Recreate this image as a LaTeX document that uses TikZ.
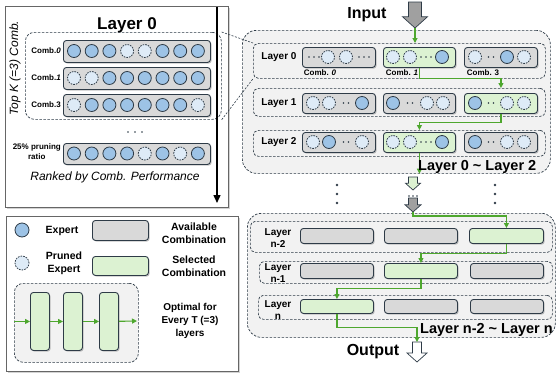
\documentclass[tikz,border=0pt]{standalone}
\usepackage{fontspec}
\setmainfont{Liberation Sans}
\usetikzlibrary{arrows.meta,shadows,positioning}

\definecolor{edgeC}{HTML}{2E3B47}
\definecolor{expertC}{HTML}{9DC3E6}
\definecolor{prunedC}{HTML}{DEEBF7}
\definecolor{availC}{HTML}{D9D9D9}
\definecolor{selC}{HTML}{DCF2D2}
\definecolor{flowC}{HTML}{4EA72E}
\definecolor{groupC}{HTML}{F2F2F2}
\definecolor{blockC}{HTML}{A0A0A0}

\tikzset{
  ex/.style={circle, draw=edgeC, fill=expertC, line width=0.8pt, minimum size=13pt, inner sep=0pt},
  pr/.style={ex, fill=prunedC, dash pattern=on 1.6pt off 1.1pt},
  ellip/.style={minimum width=18pt, minimum height=4pt, inner sep=0pt,
    path picture={\foreach \dx in {-#1,0,#1} \fill[edgeC] ([xshift=\dx pt]path picture bounding box.center) circle (0.8pt);}},
  ellip/.default=5,
  ellip2/.style={minimum width=12pt, minimum height=4pt, inner sep=0pt,
    path picture={\foreach \dx in {-2.5,2.5} \fill[edgeC] ([xshift=\dx pt]path picture bounding box.center) circle (0.8pt);}},
  avail/.style={draw=edgeC, fill=availC, rounded corners=3pt, line width=0.9pt, inner sep=0pt, anchor=north west,
    drop shadow={shadow xshift=1.2pt, shadow yshift=-1.2pt, opacity=0.45}},
  sel/.style={avail, fill=selC},
  panel/.style={draw=black!60, fill=white, line width=0.8pt, inner sep=0pt, anchor=north west,
    drop shadow={shadow xshift=1.5pt, shadow yshift=-1.5pt, opacity=0.35}},
  grp/.style={draw=edgeC, fill=groupC, dash pattern=on 2.5pt off 1.5pt, rounded corners=14pt, line width=0.7pt, inner sep=0pt, anchor=north west},
  rowbox/.style={draw=edgeC, dash pattern=on 2.5pt off 1.5pt, rounded corners=5pt, line width=0.7pt, inner sep=0pt, anchor=north west},
  flow/.style={draw=flowC, line width=1.1pt, -{Triangle[length=5pt,width=5pt]}},
  blockln/.style={draw=edgeC, line width=0.7pt, line join=miter},
  zoomln/.style={draw=edgeC, dash pattern=on 2pt off 1.5pt, line width=0.6pt},
  lbl/.style={font=\fontsize{10}{12}\selectfont\bfseries, align=center, inner sep=0pt},
  combl/.style={font=\fontsize{8}{10}\selectfont\bfseries, align=center, inner sep=0pt},
  leg/.style={font=\fontsize{10.5}{13}\selectfont\bfseries, align=center, inner sep=0pt},
  big/.style={font=\fontsize{16}{19}\selectfont\bfseries, inner sep=0pt},
  span/.style={font=\fontsize{14.5}{17}\selectfont\bfseries, inner sep=0pt, anchor=west},
}

% hollow block arrow pointing down: name, fill, x, y top, y tip, shaft width, head width
\newcommand{\blockdown}[7]{%
  \draw[blockln, fill=#2] ({#3-#6/2},#4) -- ({#3+#6/2},#4) -- ({#3+#6/2},{#5-0.45*#7})
    -- ({#3+#7/2},{#5-0.45*#7}) -- (#3,#5) -- ({#3-#7/2},{#5-0.45*#7}) -- ({#3-#6/2},{#5-0.45*#7}) -- cycle;
  \coordinate (#1-tail) at (#3,#4);
  \coordinate (#1-tip) at (#3,#5);
}

\begin{document}
\begin{tikzpicture}[x=1pt, y=-1pt]
  \useasboundingbox (0,0) rectangle (557,373);

  % ranking of combinations in one layer
  \node[panel, minimum width=223pt, minimum height=201pt] (rank) at (5,6) {};
  \node[font=\fontsize{17}{20}\selectfont\bfseries] (rankt) at (127,25) {Layer 0};
  \node[rowbox, rounded corners=9pt, minimum width=196pt, minimum height=87pt] (topk) at (25,32) {};
  \node[font=\fontsize{12}{14}\selectfont\itshape, rotate=90] (topkt) at (15,68) {Top K (=3) Comb.};

  \node[avail, minimum width=147pt, minimum height=22pt] (lc0) at (63,40) {};
  \node[combl, anchor=east] (lc0t) at (61,51) {Comb.\textit{0}};
  \foreach \s [count=\k] in {ex,ex,ex,pr,pr,ex,ex,ex}
    \node[\s] (lc0e\k) at ({56.3+17.7*\k},51) {};

  \node[avail, minimum width=147pt, minimum height=22pt] (lc1) at (63,67) {};
  \node[combl, anchor=east] (lc1t) at (61,78) {Comb.\textit{1}};
  \foreach \s [count=\k] in {pr,pr,ex,ex,ex,ex,ex,ex}
    \node[\s] (lc1e\k) at ({56.3+17.7*\k},78) {};

  \node[avail, minimum width=147pt, minimum height=22pt] (lc3) at (63,94) {};
  \node[combl, anchor=east] (lc3t) at (61,105) {Comb.3};
  \foreach \s [count=\k] in {pr,ex,ex,ex,ex,ex,ex,pr}
    \node[\s] (lc3e\k) at ({56.3+17.7*\k},105) {};

  \node[ellip=7] (lmore) at (135,132) {};

  \node[avail, minimum width=147pt, minimum height=21pt] (lc25) at (63,143) {};
  \node[combl, anchor=east] (lc25t) at (61,152) {25\% pruning\\ratio};
  \foreach \s [count=\k] in {ex,ex,ex,ex,pr,ex,pr,ex}
    \node[\s] (lc25e\k) at ({56.3+17.7*\k},153.5) {};

  \node[font=\fontsize{12}{14}\selectfont\itshape] (rankedt) at (115,177) {Ranked by Comb. Performance};
  \coordinate (rk0) at (217,6.5);
  \coordinate (rk1) at (217,203);
  \draw[line width=1.4pt, -{Triangle[length=8pt,width=7pt]}] (rk0) -- (rk1);

  % legend
  \node[panel, minimum width=232pt, minimum height=155pt] (legend) at (6,216) {};
  \node[ex, minimum size=14pt] (lgex) at (22,230) {};
  \node[leg] (lgext) at (62,231) {Expert};
  \node[avail, minimum width=56pt, minimum height=20pt] (lgav) at (92,220) {};
  \node[leg] (lgavt) at (194,233) {Available\\Combination};
  \node[pr, minimum size=14pt] (lgpr) at (22,263) {};
  \node[leg] (lgprt) at (64,263.5) {Pruned\\Expert};
  \node[sel, minimum width=56pt, minimum height=19pt] (lgsel) at (92,256) {};
  \node[leg] (lgselt) at (194,266.5) {Selected\\Combination};
  \node[grp, rounded corners=9pt, minimum width=124pt, minimum height=79pt] (opt) at (14,283) {};
  \node[sel, minimum width=19pt, minimum height=58pt] (ob1) at (30,292) {};
  \node[sel, minimum width=19pt, minimum height=58pt] (ob2) at (63,292) {};
  \node[sel, minimum width=19pt, minimum height=58pt] (ob3) at (99,292) {};
  \coordinate (optout) at (137,321);
  \draw[flow] (opt.west |- ob1.west) -- (ob1.west);
  \draw[flow] (ob1) -- (ob2);
  \draw[flow] (ob2) -- (ob3);
  \draw[flow] (ob3) -- (optout);
  \node[leg, font=\fontsize{10}{13}\selectfont\bfseries] (optt) at (190,321) {Optimal for\\Every T (=3)\\layers};

  % layers 0 ~ 2
  \node[big] (inp) at (367,15) {Input};
  \blockdown{inarr}{blockC}{415}{2}{28}{13}{25}
  \node[grp, minimum width=308pt, minimum height=143pt] (grpA) at (242,30) {};

  \node[rowbox, minimum width=292pt, minimum height=35pt] (row0) at (253,43) {};
  \node[lbl] (row0t) at (279,57) {Layer 0};
  \node[avail, minimum width=73pt, minimum height=20pt] (r0a) at (302,47) {};
  \node[sel, minimum width=72pt, minimum height=20pt] (r0b) at (383,47) {};
  \node[avail, minimum width=73pt, minimum height=20pt] (r0c) at (464,47) {};
  \foreach \s/\x [count=\k] in {ellip/314,pr/328,pr/346,ellip/364,pr/393,pr/410,ellip/426,ex/442,pr/475,ellip2/491,ex/507,pr/524}
    \node[\s] (r0e\k) at (\x,57) {};
  \node[combl] (r0at) at (320,73) {Comb. \textit{0}};
  \node[combl] (r0bt) at (402,73) {Comb. \textit{1}};
  \node[combl] (r0ct) at (483,73) {Comb. 3};

  \node[rowbox, minimum width=292pt, minimum height=28pt] (row1) at (253,88) {};
  \node[lbl] (row1t) at (279,103) {Layer 1};
  \node[avail, minimum width=73pt, minimum height=20pt] (r1a) at (302,93) {};
  \node[avail, minimum width=72pt, minimum height=20pt] (r1b) at (383,93) {};
  \node[sel, minimum width=73pt, minimum height=20pt] (r1c) at (464,93) {};
  \foreach \s/\x [count=\k] in {pr/313,pr/329,ellip2/346,ex/362,ex/393,ellip2/410,pr/427,pr/443,ex/475,ellip2/491,pr/507,pr/524}
    \node[\s] (r1e\k) at (\x,103) {};

  \node[rowbox, minimum width=292pt, minimum height=26pt] (row2) at (253,130) {};
  \node[lbl] (row2t) at (279,142) {Layer 2};
  \node[avail, minimum width=73pt, minimum height=20pt] (r2a) at (302,132) {};
  \node[sel, minimum width=72pt, minimum height=20pt] (r2b) at (383,132) {};
  \node[avail, minimum width=73pt, minimum height=20pt] (r2c) at (464,132) {};
  \foreach \s/\x [count=\k] in {pr/313,ex/329,ellip2/346,pr/362,pr/393,pr/410,ellip/426,ex/442,ex/475,ellip2/491,pr/507,pr/524}
    \node[\s] (r2e\k) at (\x,142) {};

  \draw[flow] (inarr-tip) -- (inarr-tip |- row0.north);
  \draw[flow] (r0b.south) -- ++(0,11) -| (r1c.north |- row1.north);
  \draw[flow] (r1c.south) -- ++(0,9) -| (r2b.north |- row2.north);
  \draw[flow] (r2b.south) -- (r2b.south |- grpA.south);
  \node[span] (spanA) at (418,167) {Layer 0 \textasciitilde{} Layer 2};

  % skipped layers
  \blockdown{skip1}{selC}{413}{177}{190}{9}{15}
  \node[ellip=4] (skipd) at (413,196) {};
  \blockdown{skip2}{blockC}{413}{198}{212}{9}{16}
  \foreach \yy in {185,194,203} {
    \fill[edgeC] (337,\yy) circle (1.3pt);
    \fill[edgeC] (495,\yy) circle (1.3pt);
  }

  % layers n-2 ~ n
  \node[grp, minimum width=308pt, minimum height=124pt] (grpB) at (247,213) {};

  \node[rowbox, minimum width=302pt, minimum height=31pt] (rowm2) at (250,221) {};
  \node[lbl] (rowm2t) at (278,238) {Layer\\n-2};
  \node[avail, minimum width=73pt, minimum height=15pt] (rm2a) at (300,228) {};
  \node[avail, minimum width=73pt, minimum height=15pt] (rm2b) at (384,228) {};
  \node[sel, minimum width=74pt, minimum height=15pt] (rm2c) at (469,228) {};

  \node[rowbox, minimum width=293pt, minimum height=22pt] (rowm1) at (259,261) {};
  \node[lbl] (rowm1t) at (278,273.5) {Layer\\n-1};
  \node[avail, minimum width=73pt, minimum height=15pt] (rm1a) at (300,263) {};
  \node[sel, minimum width=73pt, minimum height=15pt] (rm1b) at (384,263) {};
  \node[avail, minimum width=73pt, minimum height=15pt] (rm1c) at (470,263) {};

  \node[rowbox, minimum width=294pt, minimum height=24pt] (rown) at (258,295) {};
  \node[lbl] (rownt) at (278,310.5) {Layer\\n};
  \node[sel, minimum width=73pt, minimum height=14pt] (rna) at (300,299) {};
  \node[avail, minimum width=73pt, minimum height=14pt] (rnb) at (384,299) {};
  \node[avail, minimum width=73pt, minimum height=14pt] (rnc) at (470,299) {};

  \node[big] (outp) at (373,352) {Output};
  \blockdown{oarr}{white}{417}{342}{362}{9}{20}

  \draw[flow] (skip2-tip) -- ++(0,4) -| (rm2c.north);
  \draw[flow] (rm2c.south) -- ++(0,10) -| (rm1b.north);
  \draw[flow] (rm1b.south) -- ++(0,10) -| (rna.north);
  \draw[flow] (rna.south) -- ++(0,14) -| (oarr-tail);
  \node[span] (spanB) at (420,330) {Layer n-2 \textasciitilde{} Layer n};

  % zoom-in lines
  \draw[zoomln] (topk.north east) -- (row0.north west);
  \draw[zoomln] (topk.south east) -- (row0.south west);
\end{tikzpicture}
\end{document}
